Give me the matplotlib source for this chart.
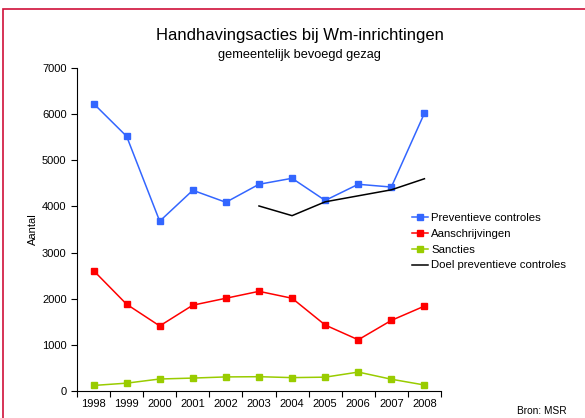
import matplotlib
matplotlib.use("Agg")
import matplotlib.pyplot as plt
from matplotlib.patches import Rectangle
import numpy as np

plt.rcParams['font.family'] = ['Liberation Sans', 'DejaVu Sans']

years = ['1998', '1999', '2000', '2001', '2002', '2003', '2004', '2005', '2006', '2007', '2008']
preventief = [6230, 5520, 3680, 4350, 4090, 4480, 4610, 4130, 4480, 4420, 6020]
aanschrijvingen = [2610, 1880, 1410, 1860, 2010, 2160, 2010, 1430, 1110, 1530, 1840]
sancties = [120, 170, 260, 280, 305, 310, 290, 300, 410, 255, 130]
doel_years = ['2003', '2004', '2005', '2006', '2007', '2008']
doel = [4010, 3800, 4100, 4230, 4360, 4600]

fig = plt.figure(figsize=(5.85, 4.18), dpi=100)
ax = fig.add_axes([0.1316, 0.0646, 0.6222, 0.7727])

x = np.arange(len(years))
xd = np.array([years.index(y) for y in doel_years])

ax.plot(x, preventief, color='#3366ff', marker='s', markersize=4.5, lw=1.1, label='Preventieve controles')
ax.plot(x, aanschrijvingen, color='#ff0000', marker='s', markersize=4.5, lw=1.1, label='Aanschrijvingen')
ax.plot(x, sancties, color='#99cc00', marker='s', markersize=4.5, lw=1.1, label='Sancties')
ax.plot(xd, doel, color='black', lw=1.1, label='Doel preventieve controles')

ax.set_xlim(-0.5, len(years) - 0.5)
ax.set_ylim(0, 7000)
ax.set_yticks(range(0, 7001, 1000))
ax.set_xticks(x)
ax.set_xticklabels(years)
ax.set_xticks(np.arange(-0.5, len(years), 1), minor=True)
ax.tick_params(axis='x', which='major', length=0, labelsize=8, pad=6)
ax.tick_params(axis='x', which='minor', length=4, width=0.8, direction='out')
ax.tick_params(axis='y', length=4, width=0.8, labelsize=8, direction='out')
for s in ['top', 'right']:
    ax.spines[s].set_visible(False)
for s in ['left', 'bottom']:
    ax.spines[s].set_linewidth(0.8)
ax.set_ylabel('Aantal', fontsize=8, labelpad=3)

fig.text(0.512, 0.916, 'Handhavingsacties bij Wm-inrichtingen', ha='center', va='center', fontsize=12)
fig.text(0.512, 0.868, 'gemeentelijk bevoegd gezag', ha='center', va='center', fontsize=9.2)
fig.text(0.968, 0.017, 'Bron: MSR', ha='right', va='center', fontsize=7.3)

leg = fig.legend(loc='upper left', bbox_to_anchor=(0.697, 0.502), frameon=False, fontsize=8.2,
                 handlelength=1.35, handletextpad=0.3, labelspacing=0.52, borderaxespad=0)

fig.patches.append(Rectangle((3/585, -0.1), 1.2, 1 - 9/418 + 0.1, transform=fig.transFigure,
                             fill=False, edgecolor='#d0103a', lw=1.2))

fig.savefig('out.png', dpi=100)
